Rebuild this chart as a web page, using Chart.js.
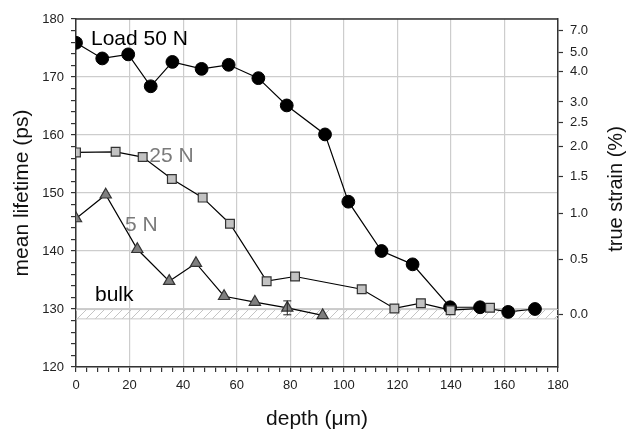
<!DOCTYPE html>
<html><head><meta charset="utf-8">
<script src="https://cdn.jsdelivr.net/npm/chart.js@4"></script>
<style>html,body{margin:0;padding:0;background:#fff}#wrap{width:627px;height:433px;position:relative}</style>
</head><body><div id="wrap"><canvas id="c"></canvas></div>
<script>
// ---- data ----
const depth50 = [0, 9.8, 19.5, 27.9, 36, 46.9, 57, 68.1, 78.7, 93, 101.7, 114.1, 125.7, 139.7, 150.9, 161.4, 171.4];
const life50  = [175.9, 173.2, 173.9, 168.4, 172.6, 171.4, 172.1, 169.8, 165.1, 160.1, 148.5, 140.0, 137.7, 130.3, 130.3, 129.5, 130.0];
const depth25 = [0, 14.8, 24.9, 35.8, 47.3, 57.5, 71.2, 81.8, 106.7, 118.9, 128.8, 139.9, 154.6];
const life25  = [157.0, 157.1, 156.2, 152.4, 149.2, 144.7, 134.8, 135.6, 133.4, 130.1, 131.0, 129.8, 130.2];
const depth5  = [0, 11.1, 22.9, 34.8, 44.8, 55.3, 66.8, 78.9, 92.1];
const life5   = [145.6, 149.7, 140.3, 134.8, 137.9, 132.2, 131.2, 130.2, 128.9];
const err5    = [0, 0, 0, 0, 0, 0, 0, 1.2, 0];
const bulkLow = 128.3, bulkHigh = 129.9;
const depthRange = [0, 180];
const lifeRange = [120, 180];
const strainTickLabels = ['0.0', '0.5', '1.0', '1.5', '2.0', '2.5', '3.0', '4.0', '5.0', '7.0'];
const strainTickAt     = [129.1, 138.6, 146.5, 152.8, 158.1, 162.2, 165.7, 170.9, 174.3, 178.1];
const strainTitle = 'true strain (%)';
const notes = [
  {text: 'Load 50 N', x: 5.6,  y: 175.5, color: '#000000'},
  {text: '25 N',      x: 27.4, y: 155.4, color: '#7a7a7a'},
  {text: '5 N',       x: 18.3, y: 143.4, color: '#7a7a7a'},
  {text: 'bulk',      x: 7.1,  y: 131.3, color: '#000000'}
];

const FONT = "'Liberation Sans', Arial, sans-serif";
Chart.defaults.font.family = FONT;
Chart.defaults.color = '#222';

const pts = (xs, ys) => xs.map((x, i) => ({x: x, y: ys[i]}));

const canvas = document.getElementById('c');
const ctx0 = canvas.getContext('2d');
const hc = document.createElement('canvas');
hc.width = 9; hc.height = 9;
const hg = hc.getContext('2d');
hg.strokeStyle = '#c4c4c4'; hg.lineWidth = 1;
hg.beginPath();
hg.moveTo(0, 9); hg.lineTo(9, 0);
hg.moveTo(-1, 1); hg.lineTo(1, -1);
hg.moveTo(8, 10); hg.lineTo(10, 8);
hg.stroke();
const hatch = ctx0.createPattern(hc, 'repeat');

const gridCol = (step) => (c) => (c.tick && Math.abs(c.tick.value % step) < 1e-6) ? '#cdcdcd' : 'rgba(0,0,0,0)';

const deco = {
  id: 'deco',
  afterDatasetsDraw(chart) {
    const {ctx, chartArea: a, scales: {x, y}} = chart;
    ctx.save();
    // error bars
    ctx.strokeStyle = '#222'; ctx.lineWidth = 1;
    err5.forEach((e, i) => {
      if (!e) return;
      const px = x.getPixelForValue(depth5[i]);
      const y1 = y.getPixelForValue(life5[i] - e), y2 = y.getPixelForValue(life5[i] + e);
      ctx.beginPath();
      ctx.moveTo(px, y1); ctx.lineTo(px, y2);
      ctx.moveTo(px - 4, y1); ctx.lineTo(px + 4, y1);
      ctx.moveTo(px - 4, y2); ctx.lineTo(px + 4, y2);
      ctx.stroke();
    });
    // top border
    ctx.strokeStyle = '#333'; ctx.lineWidth = 1.5;
    ctx.beginPath(); ctx.moveTo(a.left, a.top); ctx.lineTo(a.right, a.top); ctx.stroke();
    // annotations
    ctx.font = '21px ' + FONT;
    ctx.textBaseline = 'alphabetic'; ctx.textAlign = 'left';
    notes.forEach(n => {
      ctx.fillStyle = n.color;
      ctx.fillText(n.text, x.getPixelForValue(n.x), y.getPixelForValue(n.y));
    });
    // right axis title, reading upwards
    const s2 = chart.scales.y2;
    ctx.translate(s2.right - 11, (a.top + a.bottom) / 2 - 4);
    ctx.rotate(-Math.PI / 2);
    ctx.font = '20px ' + FONT;
    ctx.fillStyle = '#111';
    ctx.textAlign = 'center'; ctx.textBaseline = 'middle';
    ctx.fillText(strainTitle, 0, 0);
    ctx.restore();
  }
};

new Chart(canvas, {
  type: 'line',
  data: {
    datasets: [
      {label: 'Load 50 N', data: pts(depth50, life50), borderColor: '#000', borderWidth: 1.2,
       pointStyle: 'circle', pointRadius: 6.4, pointBackgroundColor: '#000', pointBorderColor: '#000', pointBorderWidth: 1, order: 3},
      {label: '25 N', data: pts(depth25, life25), borderColor: '#000', borderWidth: 1.2,
       pointStyle: 'rect', pointRadius: 6.2, pointBackgroundColor: '#c2c2c2', pointBorderColor: '#333', pointBorderWidth: 1.2, order: 2},
      {label: '5 N', data: pts(depth5, life5), borderColor: '#000', borderWidth: 1.2,
       pointStyle: 'triangle', pointRadius: 6.5, pointBackgroundColor: '#7f7f7f', pointBorderColor: '#333', pointBorderWidth: 1.2, order: 1},
      {label: 'bulkHigh', data: pts(depthRange, [bulkHigh, bulkHigh]), borderColor: '#c8c8c8', borderWidth: 1,
       pointRadius: 0, fill: '+1', backgroundColor: hatch, order: 10},
      {label: 'bulkLow', data: pts(depthRange, [bulkLow, bulkLow]), borderColor: '#c8c8c8', borderWidth: 1,
       pointRadius: 0, fill: false, order: 11}
    ]
  },
  options: {
    responsive: true, maintainAspectRatio: false, animation: false,
    layout: {padding: {top: 19, left: 0, right: 0, bottom: 0}},
    plugins: {legend: {display: false}, tooltip: {enabled: false}},
    scales: {
      x: {
        type: 'linear', position: 'bottom', min: depthRange[0], max: depthRange[1],
        ticks: {stepSize: 4, autoSkip: false, maxRotation: 0, padding: 6, font: {size: 13}, color: '#222',
                callback: v => (v % 20 === 0 ? String(v) : '')},
        grid: {color: gridCol(20), lineWidth: 1.2, tickColor: '#333', tickLength: 5, tickWidth: 1.2},
        border: {color: '#333', width: 1.5},
        title: {display: true, text: 'depth (μm)', font: {size: 21}, color: '#111', padding: {top: 0, bottom: 1}},
        afterFit: s => { s.height = 66; }
      },
      y: {
        type: 'linear', position: 'left', min: lifeRange[0], max: lifeRange[1],
        ticks: {stepSize: 2, autoSkip: false, padding: 7, font: {size: 13}, color: '#222',
                callback: v => (v % 10 === 0 ? String(v) : '')},
        grid: {color: gridCol(10), lineWidth: 1.2, tickColor: '#333', tickLength: 5, tickWidth: 1.2},
        border: {color: '#333', width: 1.5},
        title: {display: true, text: 'mean lifetime (ps)', font: {size: 21}, color: '#111', padding: {top: 10, bottom: 0}},
        afterFit: s => { s.width = 76; }
      },
      y2: {
        type: 'linear', position: 'right', min: lifeRange[0], max: lifeRange[1],
        afterBuildTicks: s => { s.ticks = strainTickAt.map(v => ({value: v})); },
        ticks: {autoSkip: false, padding: 7, font: {size: 13}, color: '#222',
                callback: (v, i) => strainTickLabels[i]},
        grid: {drawOnChartArea: false, tickColor: '#333', tickLength: 5, tickWidth: 1.2},
        border: {color: '#333', width: 1.5},
        title: {display: false},
        afterFit: s => { s.width = 69; }
      }
    }
  },
  plugins: [deco]
});
</script>
</body></html>
